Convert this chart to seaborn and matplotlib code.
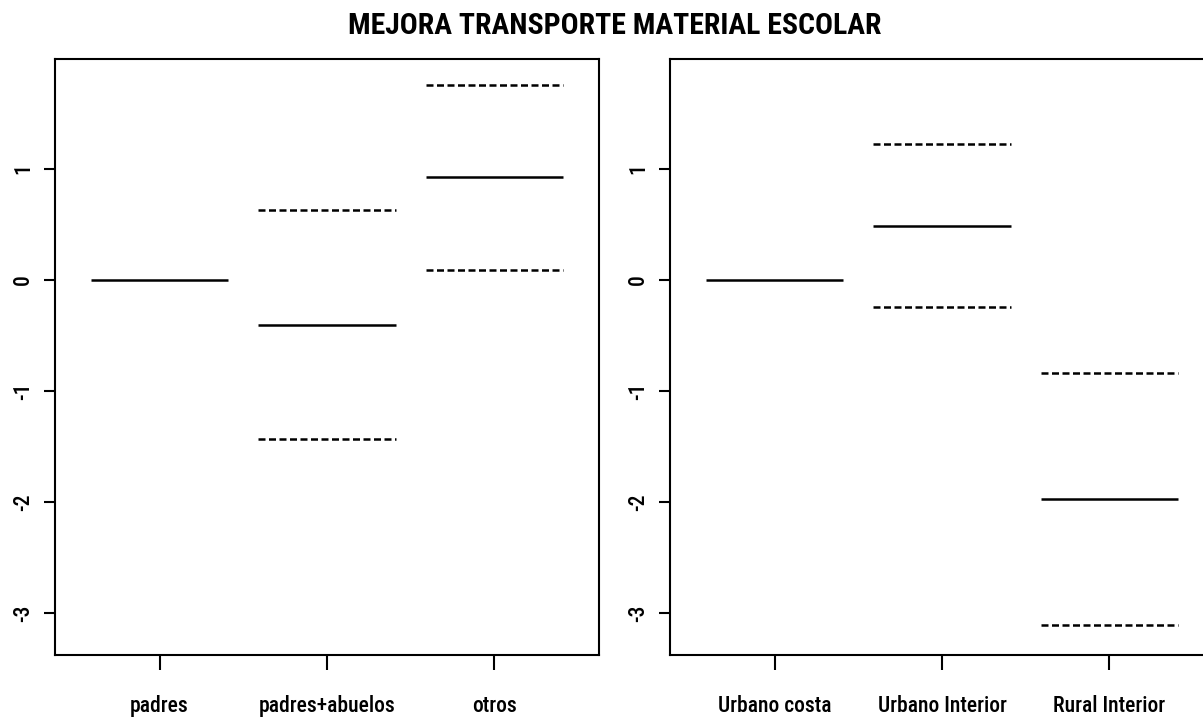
import numpy as np
import pandas as pd
import matplotlib
matplotlib.use("Agg")
import matplotlib.pyplot as plt
from matplotlib import font_manager
import seaborn as sns

# Term effects of the fitted model, with upper/lower confidence bands
groups_family = ["padres", "padres+abuelos", "otros"]
fit_family = [0.0, -0.405, 0.924]
upper_family = [np.nan, 0.630, 1.755]
lower_family = [np.nan, -1.431, 0.090]

groups_zone = ["Urbano costa", "Urbano Interior", "Rural Interior"]
fit_zone = [0.0, 0.486, -1.971]
upper_zone = [np.nan, 1.224, -0.837]
lower_zone = [np.nan, -0.243, -3.105]

y_ticks = [-3, -2, -1, 0, 1]
title = "MEJORA TRANSPORTE MATERIAL ESCOLAR"

sns.set_theme(style="ticks")
plt.rcParams["text.color"] = "black"

# Prefer a narrow face for the axis labels when one is installed
fonts = font_manager.fontManager.ttflist
installed = {f.name for f in fonts}
narrow = None
for name in ["Liberation Sans Narrow", "Arial Narrow", "Roboto Condensed",
             "Noto Sans Condensed", "Open Sans Condensed", "DejaVu Sans Condensed"]:
    if name in installed:
        narrow = {"family": [name, "DejaVu Sans"]}
        break
if narrow is None:
    cond = [f for f in fonts if str(f.stretch) in ("condensed", "semi-condensed")
            and f.style == "normal"]
    if cond:
        narrow = {"family": [cond[0].name, "DejaVu Sans"], "stretch": "condensed"}
if narrow is None:
    narrow = {"family": ["Liberation Sans", "DejaVu Sans"]}
    label_size = 14
    title_props = dict(family=["Lato", "DejaVu Sans"], fontsize=18.5)
else:
    label_size = 15.5
    title_props = dict(family=narrow["family"], fontsize=21.4)
    if "stretch" in narrow:
        title_props["fontstretch"] = narrow["stretch"]
plt.rcParams["font.family"] = narrow["family"]
tick_props = dict(fontsize=label_size, color="black", fontweight="medium")
if "stretch" in narrow:
    tick_props["fontstretch"] = narrow["stretch"]


def term_frame(groups, fit, upper, lower, half=0.41):
    rows = []
    for i, g in enumerate(groups):
        pos = i + 1
        for kind, vals in (("fit", fit), ("upper", upper), ("lower", lower)):
            v = vals[i]
            if np.isnan(v):
                continue
            band = "fit" if kind == "fit" else "band"
            for x in (pos - half, pos + half):
                rows.append({"x": x, "y": v, "seg": f"{g}-{kind}", "band": band})
    return pd.DataFrame(rows)


fig = plt.figure(figsize=(12.03, 7.17), dpi=100)
W, H = 1203, 717
ax_w, ax_h = 544, 596
top = 59
lefts = [55, 670]
panels = [
    (groups_family, fit_family, upper_family, lower_family),
    (groups_zone, fit_zone, upper_zone, lower_zone),
]

for left, (groups, fit, upper, lower) in zip(lefts, panels):
    ax = fig.add_axes([left / W, 1 - (top + ax_h) / H, ax_w / W, ax_h / H])
    df = term_frame(groups, fit, upper, lower)
    sns.lineplot(
        data=df, x="x", y="y", units="seg", estimator=None,
        style="band", dashes={"fit": "", "band": (2.8, 1.4)},
        color="black", linewidth=1.8, legend=False, ax=ax,
    )
    for line in ax.get_lines():
        line.set_dash_capstyle("butt")
        line.set_solid_capstyle("butt")
    ax.set_xlim(0.376, 3.624)
    ax.set_ylim(-3.375, 1.989)
    ax.set_xticks([1, 2, 3])
    ax.set_xticklabels(groups, **tick_props)
    ax.set_yticks(y_ticks)
    ax.set_yticklabels([str(t) for t in y_ticks], rotation=90, va="center", **tick_props)
    ax.set_xlabel("")
    ax.set_ylabel("")
    for s in ax.spines.values():
        s.set_visible(True)
        s.set_linewidth(1.5)
        s.set_color("black")
    ax.tick_params(axis="x", direction="out", length=10.8, width=1.5, pad=18, colors="black")
    ax.tick_params(axis="y", direction="out", length=7.9, width=1.5, pad=7, colors="black")
    ax.set_facecolor("white")
    ax.grid(False)

fig.text(615 / W, 1 - 26 / H, title, ha="center", va="center",
         fontweight="bold", color="black", **title_props)

fig.savefig("out.png", dpi=100, facecolor="white")
